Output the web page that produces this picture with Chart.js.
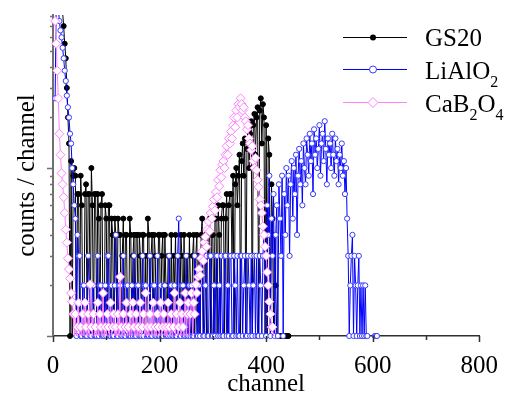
<!DOCTYPE html>
<html>
<head>
<meta charset="utf-8">
<script src="https://cdn.jsdelivr.net/npm/chart.js@4.4.1/dist/chart.umd.min.js"></script>
<style>
  html, body { margin: 0; padding: 0; background: #fff; }
</style>
</head>
<body>
<canvas id="spectrum" width="505" height="399"></canvas>
<script>
// channel of each sample (every 2nd channel)
const channels = [
  0, 2, 4, 6, 8, 10, 12, 14, 16, 18, 20, 22, 24, 26, 28, 30, 32, 34, 36, 38,
  40, 42, 44, 46, 48, 50, 52, 54, 56, 58, 60, 62, 64, 66, 68, 70, 72, 74, 76, 78,
  80, 82, 84, 86, 88, 90, 92, 94, 96, 98, 100, 102, 104, 106, 108, 110, 112, 114, 116, 118,
  120, 122, 124, 126, 128, 130, 132, 134, 136, 138, 140, 142, 144, 146, 148, 150, 152, 154, 156, 158,
  160, 162, 164, 166, 168, 170, 172, 174, 176, 178, 180, 182, 184, 186, 188, 190, 192, 194, 196, 198,
  200, 202, 204, 206, 208, 210, 212, 214, 216, 218, 220, 222, 224, 226, 228, 230, 232, 234, 236, 238,
  240, 242, 244, 246, 248, 250, 252, 254, 256, 258, 260, 262, 264, 266, 268, 270, 272, 274, 276, 278,
  280, 282, 284, 286, 288, 290, 292, 294, 296, 298, 300, 302, 304, 306, 308, 310, 312, 314, 316, 318,
  320, 322, 324, 326, 328, 330, 332, 334, 336, 338, 340, 342, 344, 346, 348, 350, 352, 354, 356, 358,
  360, 362, 364, 366, 368, 370, 372, 374, 376, 378, 380, 382, 384, 386, 388, 390, 392, 394, 396, 398,
  400, 402, 404, 406, 408, 410, 412, 414, 416, 418, 420, 422, 424, 426, 428, 430, 432, 434, 436, 438,
  440, 442, 444, 446, 448, 450, 452, 454, 456, 458, 460, 462, 464, 466, 468, 470, 472, 474, 476, 478,
  480, 482, 484, 486, 488, 490, 492, 494, 496, 498, 500, 502, 504, 506, 508, 510, 512, 514, 516, 518,
  520, 522, 524, 526, 528, 530, 532, 534, 536, 538, 540, 542, 544, 546, 548, 550, 552, 554, 556, 558,
  560, 562, 564, 566, 568, 570, 572, 574, 576, 578, 580, 582, 584, 586, 588, 590, 592, 594, 596, 598,
  600, 602, 604, 606, 608, 610, 612, 614, 616, 618
];

// counts per channel (0 = empty channel)
const gs20 = [
  null, null, null, null, null, null, null, null, 95, 85, 70, 55, 45, 30, 20, 14, 1, 11, 0, 9,
  10, 9, 0, 7, 7, 0, 9, 6, 0, 0, 7, 8, 0, 7, 7, 0, 10, 6, 0, 7,
  7, 0, 7, 5, 0, 6, 7, 0, 0, 6, 5, 0, 6, 6, 0, 5, 4, 0, 5, 4,
  0, 5, 4, 4, 0, 3, 5, 0, 4, 4, 0, 0, 5, 4, 0, 3, 4, 0, 4, 4,
  0, 4, 3, 0, 4, 4, 0, 3, 0, 5, 4, 0, 3, 4, 0, 4, 3, 0, 0, 4,
  4, 0, 3, 4, 0, 4, 2, 0, 3, 3, 0, 4, 0, 3, 2, 4, 0, 3, 3, 0,
  4, 3, 0, 4, 0, 3, 3, 0, 4, 2, 0, 3, 4, 0, 3, 4, 0, 3, 0, 4,
  5, 0, 3, 4, 0, 4, 3, 5, 0, 4, 4, 0, 5, 5, 0, 6, 4, 0, 5, 6,
  6, 0, 5, 7, 0, 6, 7, 7, 3, 9, 0, 8, 10, 6, 9, 12, 0, 11, 14, 9,
  15, 0, 13, 17, 10, 16, 19, 0, 18, 21, 12, 20, 23, 0, 22, 26, 14, 24, 20, 0,
  18, 0, 15, 12, 0, 8, 5, 0, 4, 2, 0, 0, 1, 1, 1, 1, 1, 1, 1, 1,
  1, 1, null, null, null, null, null, null, null, null, null, null, null, null, null, null, null, null, null, null,
  null, null, null, null, null, null, null, null, null, null, null, null, null, null, null, null, null, null, null, null,
  null, null, null, null, null, null, null, null, null, null, null, null, null, null, null, null, null, null, null, null,
  null, null, null, null, null, null, null, null, null, null, null, null, null, null, null, null, null, null, null, null,
  null, null, null, null, null, null, null, null, null, null
];

const lialo2 = [
  null, null, 26, 95, 95, 90, 75, 66, 60, 52, 45, 38, 33, 27, 23, 20, 16, 14, 10, 8,
  6, 5, 0, 4, 3, 3, 0, 0, 2, 2, 0, 0, 0, 3, 2, 0, 0, 2, 2, 0,
  0, 0, 3, 0, 2, 2, 0, 0, 0, 2, 0, 3, 3, 0, 0, 2, 0, 0, 2, 4,
  0, 0, 2, 2, 0, 0, 3, 0, 0, 2, 2, 0, 0, 0, 2, 0, 3, 0, 0, 2,
  2, 0, 0, 0, 3, 0, 2, 2, 0, 0, 0, 3, 0, 0, 2, 2, 0, 0, 3, 0,
  0, 2, 0, 0, 2, 2, 0, 0, 0, 3, 0, 2, 0, 0, 2, 0, 0, 3, 5, 0,
  0, 2, 2, 0, 0, 3, 0, 0, 2, 0, 2, 0, 0, 3, 2, 0, 0, 2, 0, 3,
  3, 0, 0, 2, 3, 0, 0, 3, 3, 0, 0, 2, 0, 3, 3, 0, 2, 0, 3, 0,
  0, 3, 3, 0, 2, 0, 3, 3, 0, 0, 3, 2, 0, 3, 0, 0, 3, 3, 0, 2,
  3, 0, 0, 3, 2, 0, 3, 0, 2, 3, 0, 3, 0, 0, 3, 2, 0, 3, 4, 3,
  0, 6, 4, 9, 0, 5, 3, 7, 0, 4, 6, 0, 8, 5, 3, 9, 0, 7, 4, 10,
  6, 9, 3, 8, 11, 5, 10, 7, 12, 4, 9, 13, 8, 11, 6, 14, 10, 8, 15, 12,
  9, 16, 11, 14, 7, 17, 12, 15, 10, 13, 18, 9, 14, 16, 11, 19, 13, 8, 15, 12,
  14, 10, 16, 12, 9, 15, 11, 13, 8, 12, 10, 14, 9, 11, 7, 10, 5, 3, 0, 2,
  3, 4, 0, 3, 2, 0, 2, 3, 0, 2, 1, 2, 0, 2, 1, 0, null, null, null, null,
  null, null, 0, 1, 1, null, null, null, null, null
];

const cab2o4 = [
  null, null, 75, 55, 38, 26, 16, 12, 9.3, 8, 6.7, 5.4, 4.3, 3.6, 2.9, 2.5, 2.2, 1.8, 1.6, 1.35,
  0, 1.35, 0, 1.13, 1.58, 0, 1.13, 0, 1.35, 0, 1.58, 1.13, 0, 1.35, 0, 2.03, 1.13, 0, 1.35, 0,
  1.13, 0, 1.58, 0, 1.35, 1.13, 0, 1.8, 0, 1.13, 0, 1.35, 1.13, 0, 1.58, 0, 1.13, 1.35, 0, 1.13,
  0, 1.35, 0, 2.25, 1.13, 0, 1.35, 0, 1.13, 1.58, 0, 1.13, 0, 1.35, 0, 1.58, 1.13, 0, 1.35, 0,
  1.13, 0, 1.58, 0, 1.13, 1.35, 0, 1.8, 0, 1.13, 0, 1.35, 1.13, 0, 1.58, 0, 1.13, 0, 1.35, 1.13,
  0, 1.58, 0, 1.13, 1.35, 0, 1.13, 0, 1.58, 1.13, 0, 1.35, 0, 1.13, 1.8, 0, 1.35, 0, 1.13, 1.58,
  0, 1.35, 1.13, 0, 1.8, 0, 1.35, 1.58, 0, 1.35, 1.8, 0, 1.58, 1.35, 2.03, 1.8, 2.25, 2.5, 2.3, 2.9,
  3.2, 2.8, 3.6, 3.9, 3.4, 4.3, 4.8, 4.2, 5.4, 5.0, 5.9, 6.5, 5.6, 7.2, 6.7, 8.5, 7.8, 9.7, 8.8, 10.5,
  11, 10, 12, 13.5, 12, 15, 14, 16.5, 15, 18, 20, 17.5, 22, 20, 24, 23, 26, 24, 22, 23,
  20, 19, 17, 18, 15, 14, 12.8, 13.5, 11, 10, 11.5, 9.7, 8.5, 7.7, 6.5, 6, 5.4, 4.5, 4, 3.4,
  3, 2.4, 2.0, 1.6, 1.35, 1.13, 1.13, 0, null, null, null, null, null, null, null, null, null, null, null, null,
  null, null, null, null, null, null, null, null, null, null, null, null, null, null, null, null, null, null, null, null,
  null, null, null, null, null, null, null, null, null, null, null, null, null, null, null, null, null, null, null, null,
  null, null, null, null, null, null, null, null, null, null, null, null, null, null, null, null, null, null, null, null,
  null, null, null, null, null, null, null, null, null, null, null, null, null, null, null, null, null, null, null, null,
  null, null, null, null, null, null, null, null, null, null
];

const seriesNames = ["GS20", "LiAlO₂", "CaB₂O₄"];

// axis ticks
const xTickValues = [0, 100, 200, 300, 400, 500, 600, 700, 800];
const yTickValues = [1, 2, 3, 4, 5, 6, 7, 8, 9, 10, 20, 30, 40, 50, 60, 70, 80];

const serif = "'Liberation Serif', 'Times New Roman', Times, 'DejaVu Serif', serif";
const blue = "#0000ff";
const pink = "#ff80ff";
const yFloor = 1; // bottom of the log axis, empty channels sit there

function points(values) {
  return channels.map((c, i) => {
    const v = values[i];
    return { x: c, y: v === 0 ? yFloor : v, empty: v === 0 };
  });
}

// draws tick marks and the legend with subscripts
const decorations = {
  id: "decorations",
  afterDraw(chart) {
    const c = chart.ctx;
    const xs = chart.scales.x;
    const ys = chart.scales.y;
    const area = chart.chartArea;
    c.save();

    // x ticks, pointing down
    c.strokeStyle = "#303030";
    c.lineWidth = 1.5;
    c.beginPath();
    xTickValues.forEach((v) => {
      const px = Math.round(xs.getPixelForValue(v)) + 0.5;
      const len = v % 200 === 0 ? 6 : 4;
      c.moveTo(px, area.bottom);
      c.lineTo(px, area.bottom + len);
    });
    c.stroke();

    // y ticks, pointing left
    c.strokeStyle = "#707070";
    c.beginPath();
    yTickValues.forEach((v) => {
      const py = Math.round(ys.getPixelForValue(v)) + 0.5;
      const len = v === 1 || v === 10 ? 6 : 3;
      c.moveTo(area.left, py);
      c.lineTo(area.left - len, py);
    });
    c.stroke();

    // legend
    const rows = [
      { line: "#000", y: 37, base: 46 },
      { line: blue, y: 69, base: 79 },
      { line: pink, y: 102, base: 112 },
    ];
    rows.forEach((row, i) => {
      c.strokeStyle = row.line;
      c.lineWidth = 1;
      c.beginPath();
      c.moveTo(343, row.y + 0.5);
      c.lineTo(407, row.y + 0.5);
      c.stroke();
      const ds = chart.data.datasets[i];
      if (i === 0) {
        c.fillStyle = "#000";
        c.beginPath();
        c.arc(373, row.y + 0.5, 3, 0, Math.PI * 2);
        c.fill();
      } else if (i === 1) {
        c.fillStyle = "#fff";
        c.strokeStyle = ds.pointBorderColor;
        c.beginPath();
        c.arc(373, row.y + 0.5, 3.5, 0, Math.PI * 2);
        c.fill();
        c.stroke();
      } else {
        c.fillStyle = "#fff";
        c.strokeStyle = pink;
        c.beginPath();
        c.moveTo(373, row.y - 4.5);
        c.lineTo(378, row.y + 0.5);
        c.lineTo(373, row.y + 5.5);
        c.lineTo(368, row.y + 0.5);
        c.closePath();
        c.fill();
        c.stroke();
      }

      // text, unicode subscript digits drawn small and lowered
      let x = 425;
      c.fillStyle = "#000";
      c.textBaseline = "alphabetic";
      c.textAlign = "left";
      for (const ch of seriesNames[i]) {
        const code = ch.charCodeAt(0);
        if (code >= 0x2080 && code <= 0x2089) {
          const d = String(code - 0x2080);
          c.font = "16px " + serif;
          c.fillText(d, x, row.base + 8);
          x += c.measureText(d).width;
        } else {
          c.font = "25px " + serif;
          c.fillText(ch, x, row.base);
          x += c.measureText(ch).width;
        }
      }
    });
    c.restore();
  },
};

Chart.defaults.font.family = serif;
Chart.defaults.color = "#000";

new Chart(document.getElementById("spectrum"), {
  type: "line",
  data: {
    datasets: [
      {
        label: seriesNames[0],
        data: points(gs20),
        borderColor: "#000",
        borderWidth: 1,
        pointStyle: "circle",
        pointRadius: (ctx) => (ctx.raw && ctx.raw.empty ? 0 : 2.5),
        pointBackgroundColor: "#000",
        pointBorderColor: "#000",
        pointBorderWidth: 1,
        order: 3,
      },
      {
        label: seriesNames[1],
        data: points(lialo2),
        borderColor: blue,
        borderWidth: 1,
        pointStyle: "circle",
        pointRadius: 2.6,
        pointBackgroundColor: "#fff",
        pointBorderColor: "#3a3aff",
        pointBorderWidth: 1,
        order: 2,
      },
      {
        label: seriesNames[2],
        data: points(cab2o4),
        borderColor: pink,
        borderWidth: 1,
        pointStyle: "rectRot",
        pointRadius: (ctx) => (ctx.raw && ctx.raw.empty ? 0 : 4.5),
        pointBackgroundColor: "#fff",
        pointBorderColor: pink,
        pointBorderWidth: 1,
        order: 1,
      },
    ],
  },
  options: {
    responsive: false,
    animation: false,
    events: [],
    clip: { left: 6, right: 6, top: 0, bottom: 6 },
    layout: { padding: { left: 0, right: 23, top: 15, bottom: 0 } },
    plugins: {
      legend: { display: false },
      tooltip: { enabled: false },
    },
    scales: {
      x: {
        type: "linear",
        min: 0,
        max: 800,
        grid: { display: false },
        border: { display: true, color: "#303030", width: 1.5 },
        ticks: {
          stepSize: 100,
          autoSkip: false,
          maxRotation: 0,
          padding: 7,
          font: { size: 25 },
          callback: (v) => (v % 200 === 0 ? v : ""),
        },
        title: {
          display: true,
          text: "channel",
          font: { size: 25 },
          padding: { top: 0, bottom: 0 },
        },
        afterFit: (s) => { s.height = 63; },
      },
      y: {
        type: "logarithmic",
        min: 1,
        max: 81.5,
        grid: { display: false },
        border: { display: true, color: "#707070", width: 2 },
        ticks: { display: false },
        title: {
          display: true,
          text: "counts / channel",
          font: { size: 25 },
          padding: { top: 12, bottom: 0 },
        },
        afterFit: (s) => { s.width = 53; },
      },
    },
  },
  plugins: [decorations],
});
</script>
</body>
</html>
